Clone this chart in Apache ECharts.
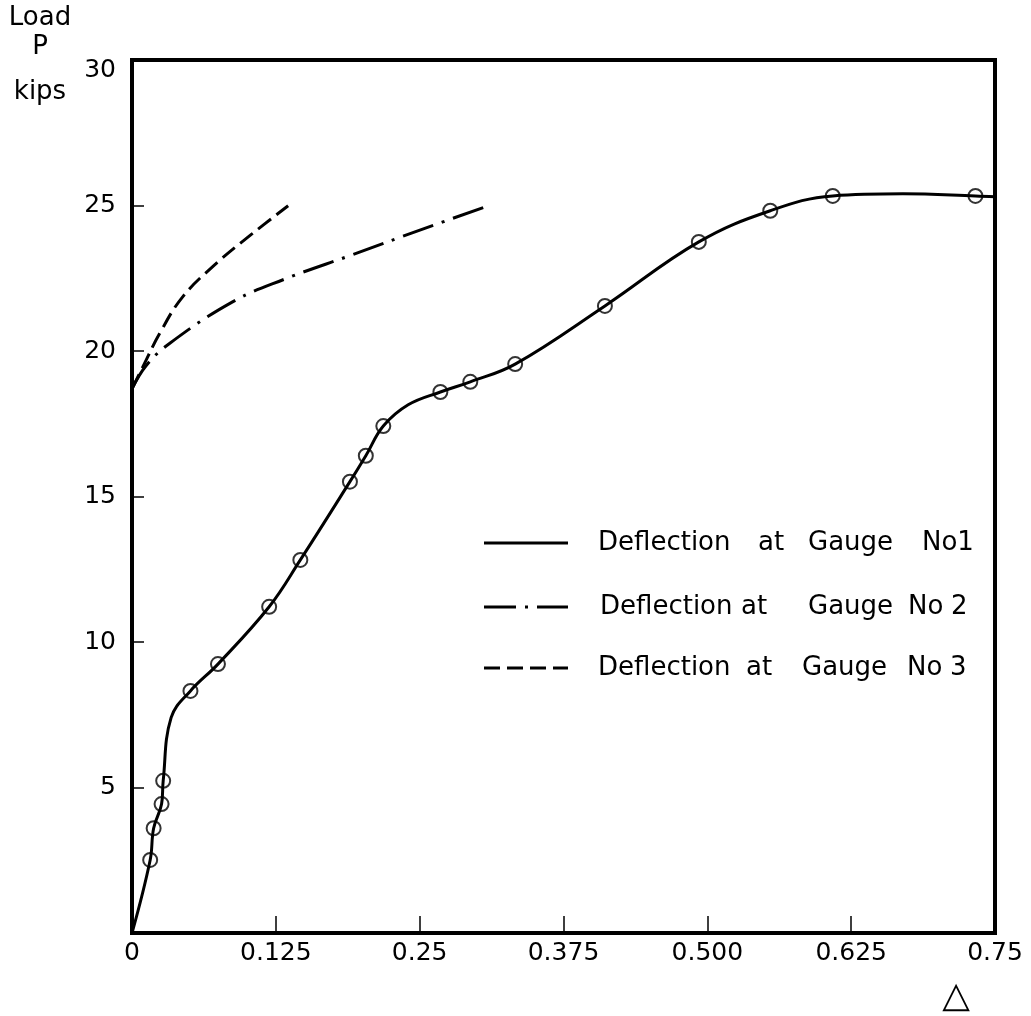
<!DOCTYPE html>
<html>
<head>
<meta charset="utf-8">
<script src="https://cdn.jsdelivr.net/npm/echarts@6/dist/echarts.min.js"></script>
<style>
html,body{margin:0;padding:0;background:#fff;}
#c{width:1031px;height:1016px;}
</style>
</head>
<body>
<div id="c"></div>
<script>
// Tick labels
const xTickLabels = ['0', '0.125', '0.25', '0.375', '0.500', '0.625', '0.75'];
const yTickLabels = ['', '5', '10', '15', '20', '25', '30'];

// Gauge No1 measured points (circled)
const gauge1Delta = [0.0158, 0.0188, 0.0257, 0.0271, 0.0508, 0.0747, 0.1192, 0.1463, 0.1894, 0.2032, 0.2184, 0.268, 0.294, 0.333, 0.411, 0.4926, 0.5547, 0.609, 0.733];
const gauge1Load  = [2.51, 3.60, 4.43, 5.23, 8.32, 9.24, 11.21, 12.82, 15.51, 16.40, 17.42, 18.59, 18.94, 19.55, 21.55, 23.75, 24.82, 25.33, 25.33];
// Gauge No1 additional points on the drawn curve (no circle)
const gauge1TraceDelta = [0, 0.034, 0.240, 0.67, 0.75];
const gauge1TraceLoad  = [0, 7.4, 18.15, 25.4, 25.3];

// Gauge No2 curve (dash-dot)
const gauge2Delta = [0, 0.0124, 0.0326, 0.0874, 0.132, 0.191, 0.252, 0.306];
const gauge2Load  = [18.7, 19.5, 20.26, 21.69, 22.46, 23.30, 24.18, 24.94];

// Gauge No3 curve (dashed)
const gauge3Delta = [0, 0.0095, 0.024, 0.0442, 0.073, 0.1048, 0.1357];
const gauge3Load  = [18.7, 19.46, 20.6, 21.87, 23.0, 24.04, 24.99];

// Legend entries, split into the words as spaced in the figure
const seriesWords = [
  ['Deflection', 'at', 'Gauge', 'No1'],
  ['Deflection', 'at', 'Gauge', 'No', '2'],
  ['Deflection', 'at', 'Gauge', 'No', '3']
];

function pairs(xs, ys){ return xs.map((x,i)=>[x, ys[i]]); }
const gauge1Line = pairs(gauge1Delta, gauge1Load).concat(pairs(gauge1TraceDelta, gauge1TraceLoad)).sort((a,b)=>a[0]-b[0]);

const FONT = "'DejaVu Sans', sans-serif";
const chart = echarts.init(document.getElementById('c'));

const legendX = 484, legendX2 = 568;
const legendY = [543, 607, 668];
const wordX = [
  [598, 758, 808, 922],
  [600, 741, 808, 908, 951],
  [598, 746, 802, 907, 950]
];
const dashTypes = ['solid', [32, 9, 3, 9], [16, 7]];

const graphics = [
  {type:'text', style:{text:'Load', x:40, y:18, font:"26px "+FONT, fill:'#000', textAlign:'center', textVerticalAlign:'middle'}},
  {type:'text', style:{text:'P', x:40, y:47, font:"26px "+FONT, fill:'#000', textAlign:'center', textVerticalAlign:'middle'}},
  {type:'text', style:{text:'kips', x:40, y:92, font:"26px "+FONT, fill:'#000', textAlign:'center', textVerticalAlign:'middle'}},
  {type:'text', style:{text:'\u25B3', x:956, y:998, font:"36px "+FONT, fill:'#000', textAlign:'center', textVerticalAlign:'middle'}}
];
seriesWords.forEach((words,i)=>{
  graphics.push({type:'line', shape:{x1:legendX, y1:legendY[i], x2:legendX2, y2:legendY[i]},
    style:{stroke:'#000', lineWidth:3, lineDash: dashTypes[i]==='solid'?null:dashTypes[i]}});
  words.forEach((w,j)=>{
    graphics.push({type:'text', style:{text:w, x:wordX[i][j], y:legendY[i], font:"26px "+FONT, fill:'#000', textVerticalAlign:'middle'}});
  });
});

chart.setOption({
  backgroundColor:'#fff',
  animation:false,
  grid:{left:132, right:36, top:60, bottom:83, show:true, borderColor:'#000', borderWidth:4, backgroundColor:'transparent'},
  xAxis:{
    type:'value', min:0, max:0.75, interval:0.125,
    axisLine:{show:false},
    axisTick:{show:true, inside:true, length:17, lineStyle:{color:'#000', width:1.5}},
    splitLine:{show:false},
    axisLabel:{color:'#000', fontSize:25, fontFamily:FONT, margin:8,
      formatter:(v)=>xTickLabels[Math.round(v/0.125)]}
  },
  yAxis:{
    type:'value', min:0, max:30, interval:5,
    axisLine:{show:false},
    axisTick:{show:true, inside:true, length:12, lineStyle:{color:'#000', width:1.5}},
    splitLine:{show:false},
    axisLabel:{color:'#000', fontSize:25, fontFamily:FONT, margin:16,
      formatter:(v)=>{ const t = yTickLabels[Math.round(v/5)]; return v === 30 ? '{hi|' + t + '}' : t; },
      rich:{hi:{fontSize:25, fontFamily:FONT, color:'#000', padding:[20,0,0,0]}}}
  },
  series:[
    {type:'line', name:'Deflection at Gauge No1', data:gauge1Line, smooth:0.4, showSymbol:false, symbol:'none',
      lineStyle:{color:'#000', width:3}, z:3},
    {type:'scatter', name:'Gauge No1 readings', data:pairs(gauge1Delta, gauge1Load), symbol:'circle', symbolSize:14,
      itemStyle:{color:'rgba(0,0,0,0)', borderColor:'#000', borderWidth:2}, z:4},
    {type:'line', name:'Deflection at Gauge No 2', data:pairs(gauge2Delta, gauge2Load), smooth:0.4, showSymbol:false, symbol:'none',
      lineStyle:{color:'#000', width:3, type:dashTypes[1]}},
    {type:'line', name:'Deflection at Gauge No 3', data:pairs(gauge3Delta, gauge3Load), smooth:0.4, showSymbol:false, symbol:'none',
      lineStyle:{color:'#000', width:3, type:dashTypes[2]}}
  ],
  graphic: graphics
});
</script>
</body>
</html>
